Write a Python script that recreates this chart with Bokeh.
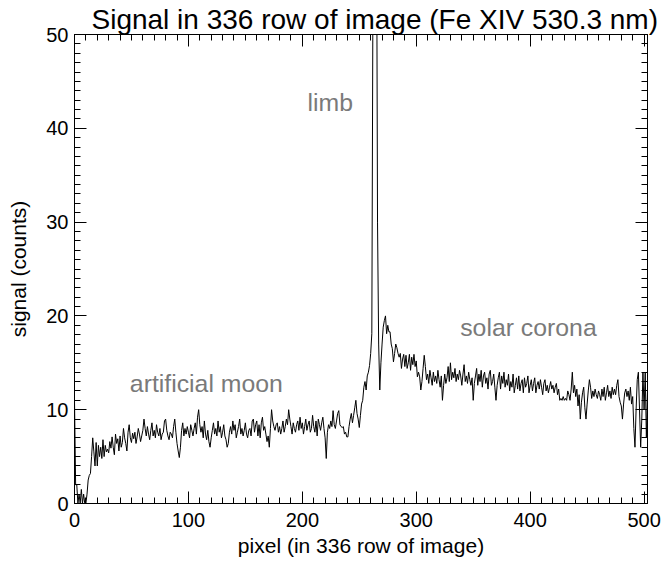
import numpy as np
from bokeh.plotting import figure
from bokeh.models import SingleIntervalTicker, LinearAxis, Label, Range1d, CustomJSTickFormatter
from bokeh.embed import file_html
from bokeh.resources import INLINE

# ---- data (signal along row 336) ----
signal = [
    11.0, 2.0, 2.0, 0.0, 1.0, 0.0, 1.5, 0.0, 1.0, 0.0,
    0.0, 1.0, 2.5, 3.0, 3.2, 5.0, 7.0, 5.5, 4.0, 6.5,
    4.0, 6.2, 5.0, 6.0, 4.8, 6.8, 5.0, 6.2, 5.5, 5.8,
    5.4, 6.6, 5.9, 7.1, 6.0, 5.2, 7.4, 6.4, 6.9, 5.6,
    7.2, 6.0, 6.5, 8.0, 7.0, 6.4, 5.6, 7.6, 8.4, 7.0,
    6.5, 7.5, 6.9, 7.6, 6.4, 7.1, 8.0, 7.4, 6.6, 7.2,
    7.8, 9.0, 8.0, 7.2, 8.2, 7.4, 6.8, 7.8, 8.6, 7.2,
    7.8, 7.0, 8.4, 7.6, 7.2, 8.0, 6.8, 7.4, 7.6, 8.8,
    9.0, 7.8, 7.2, 6.8, 7.6, 7.4, 7.0, 8.2, 9.0, 7.6,
    6.4, 5.6, 4.9, 6.0, 7.8, 8.6, 7.2, 8.0, 7.4, 8.2,
    7.6, 7.0, 8.4, 7.8, 7.2, 8.0, 8.6, 7.4, 9.2, 10.0,
    8.4, 7.6, 8.2, 7.0, 8.8, 7.4, 6.8, 7.8, 6.6, 6.0,
    7.0, 7.8, 8.6, 7.4, 8.0, 7.2, 8.8, 7.6, 8.2, 7.0,
    7.6, 8.4, 7.2, 6.8, 6.0, 6.4, 7.6, 8.2, 7.4, 8.8,
    7.8, 8.4, 7.0, 7.6, 8.2, 9.0, 7.4, 8.0, 7.2, 7.8,
    8.6, 7.4, 7.0, 7.8, 8.0, 7.2, 8.8, 9.0, 7.6, 8.4,
    8.8, 7.2, 8.4, 7.0, 8.6, 9.2, 7.8, 8.2, 7.4, 6.6,
    7.2, 6.0, 8.0, 10.0, 8.8, 8.2, 7.8, 8.4, 8.6, 7.6,
    8.2, 7.4, 8.0, 8.8, 7.6, 8.2, 9.0, 8.4, 10.0, 9.0,
    8.2, 7.4, 8.6, 8.0, 7.6, 8.4, 8.8, 7.8, 9.2, 8.0,
    8.6, 7.4, 8.2, 9.0, 7.8, 8.4, 8.8, 7.6, 8.0, 9.4,
    8.2, 7.6, 8.8, 7.2, 9.0, 8.4, 7.8, 8.6, 9.2, 8.0,
    7.0, 4.8, 7.6, 8.4, 8.0, 8.8, 8.2, 9.9, 8.4, 8.0,
    8.8, 9.6, 9.9, 8.4, 8.2, 8.1, 8.2, 7.4, 7.6, 7.1,
    7.1, 8.2, 9.0, 9.6, 8.6, 9.4, 10.2, 11.0, 9.6, 9.0,
    8.1, 9.4, 10.6, 11.0, 12.4, 13.0, 12.1, 13.6, 14.0, 14.7,
    16.0, 18.1, 55.0, 90.0, 110.0, 70.0, 30.0, 17.0, 12.1, 15.0,
    17.0, 18.8, 19.5, 20.0, 18.1, 19.0, 18.3, 18.3, 17.0, 16.5,
    15.1, 16.0, 17.0, 16.6, 16.0, 15.6, 16.0, 14.4, 15.4, 15.9,
    14.6, 15.8, 14.4, 15.0, 15.9, 14.2, 15.6, 14.8, 15.9, 14.6,
    15.2, 13.5, 14.0, 13.5, 12.1, 13.0, 14.4, 15.8, 14.6, 13.2,
    13.8, 12.8, 14.2, 13.4, 12.6, 14.0, 13.0, 13.6, 12.8, 14.2,
    13.2, 12.4, 13.6, 11.0, 12.6, 13.8, 12.8, 13.4, 14.6, 13.0,
    15.0, 13.2, 14.0, 13.4, 14.4, 13.0, 13.8, 13.2, 14.2, 13.6,
    12.6, 13.8, 14.8, 13.0, 13.6, 12.8, 14.0, 13.2, 12.6, 13.4,
    11.0, 12.8, 13.6, 14.4, 12.6, 13.8, 13.0, 14.2, 12.4, 13.6,
    14.0, 12.8, 13.4, 12.2, 13.8, 14.2, 12.6, 13.0, 13.8, 12.4,
    11.0, 12.6, 13.4, 14.0, 12.2, 13.6, 12.8, 14.0, 12.4, 13.2,
    12.6, 13.8, 12.0, 13.0, 12.4, 13.8, 11.8, 12.6, 13.4, 12.2,
    13.6, 12.0, 12.8, 13.2, 11.8, 13.4, 12.4, 12.8, 13.6, 11.8,
    12.6, 13.2, 12.0, 12.8, 13.4, 11.8, 12.6, 13.0, 12.2, 13.2,
    12.4, 11.6, 12.8, 13.2, 12.0, 12.6, 11.8, 12.4, 13.0, 12.2,
    12.6, 11.8, 12.4, 12.8, 11.6, 12.2, 11.0, 11.2, 11.0, 11.4,
    11.0, 11.2, 11.0, 12.0, 11.6, 11.0, 12.2, 14.0, 11.8, 12.6,
    11.4, 12.2, 10.4, 11.6, 9.0, 10.8, 11.8, 12.4, 10.2, 9.0,
    10.6, 12.0, 13.2, 12.4, 11.2, 12.0, 11.4, 12.2, 11.6, 11.2,
    12.0, 11.6, 11.0, 12.2, 11.4, 12.4, 11.0, 11.8, 12.6, 11.4,
    12.0, 11.2, 12.4, 11.6, 12.2, 11.6, 12.6, 13.2, 11.4, 10.8,
    10.4, 9.0, 10.6, 11.8, 12.2, 11.4, 12.0, 11.0, 12.4, 10.6,
    11.4, 8.0, 6.0, 10.0, 13.2, 14.0, 10.0, 6.0, 9.0, 14.0,
    10.0, 14.0, 7.0, 12.0,
]
pixel = np.arange(len(signal))

title_text = "Signal in 336 row of image (Fe XIV 530.3 nm)"
x_label = "pixel (in 336 row of image)"
y_label = "signal (counts)"
notes = ["artificial moon", "limb", "solar corona"]
note_x = [48.6, 204.6, 338.6]
note_y = [12.8, 42.8, 18.8]

FONT = "Liberation Sans"
FW, FH = 573, 469

p = figure(frame_width=FW, frame_height=FH, x_range=Range1d(0, 503), y_range=Range1d(0, 50),
           output_backend="svg", toolbar_location=None,
           min_border_left=74, min_border_right=16, min_border_top=34, min_border_bottom=56)
p.title.text = title_text
p.title.text_font = FONT
p.title.text_font_size = "28px"
p.title.text_font_style = "normal"
p.title.text_color = "black"
p.title.align = "left"
p.title.offset = 17
p.title.standoff = 0
p.grid.visible = False
p.outline_line_color = "black"
p.outline_line_width = 1
p.background_fill_color = "white"
p.border_fill_color = "white"

p.line(pixel, signal, line_color="black", line_width=1)

blank = CustomJSTickFormatter(code="return ''")

def style_axis(ax, ticker, show_labels):
    ax.ticker = ticker
    ax.axis_line_color = "black"
    ax.major_tick_line_color = "black"
    ax.minor_tick_line_color = "black"
    ax.major_tick_in = 12
    ax.major_tick_out = 0
    ax.minor_tick_in = 6
    ax.minor_tick_out = 0
    ax.major_label_text_font = FONT
    ax.major_label_text_color = "black"
    ax.axis_label_text_font = FONT
    ax.axis_label_text_font_style = "normal"
    ax.axis_label_text_color = "black"
    if show_labels:
        ax.major_label_text_font_size = "20px"
    else:
        ax.formatter = blank
        ax.major_label_text_font_size = "1px"
        ax.major_label_standoff = 0

xt = SingleIntervalTicker(interval=100, num_minor_ticks=10)
yt = SingleIntervalTicker(interval=10, num_minor_ticks=10)

style_axis(p.xaxis[0], xt, True)
style_axis(p.yaxis[0], yt, True)
p.xaxis[0].axis_label = x_label
p.xaxis[0].axis_label_text_font_size = "21px"
p.xaxis[0].major_label_standoff = 9
p.xaxis[0].axis_label_standoff = 4
p.yaxis[0].axis_label = y_label
p.yaxis[0].axis_label_text_font_size = "21px"
p.yaxis[0].major_label_standoff = 6
p.yaxis[0].axis_label_standoff = 13

top_ax = LinearAxis()
style_axis(top_ax, SingleIntervalTicker(interval=100, num_minor_ticks=10), False)
p.add_layout(top_ax, "above")
right_ax = LinearAxis()
style_axis(right_ax, SingleIntervalTicker(interval=10, num_minor_ticks=10), False)
p.add_layout(right_ax, "right")

for t, xx, yy in zip(notes, note_x, note_y):
    p.add_layout(Label(x=xx, y=yy, text=t, text_font=FONT, text_font_size="24.8px",
                       text_color="#7a7a7a", text_align="left", text_baseline="alphabetic"))

open("out.html", "w").write(file_html(p, INLINE))
